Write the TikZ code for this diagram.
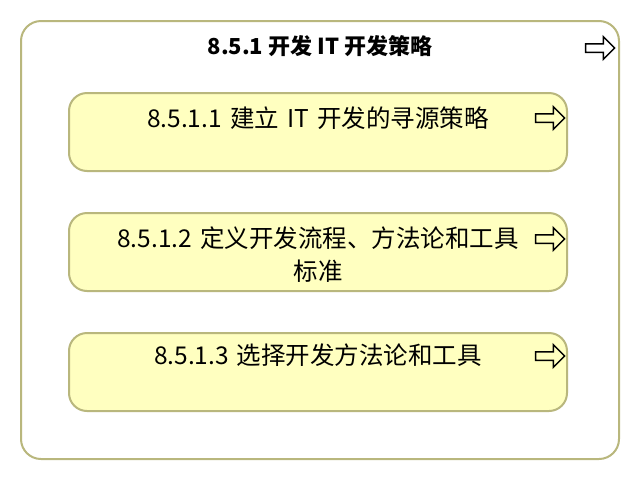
\documentclass[tikz,border=0pt]{standalone}
\usepackage{fontspec}
\setmainfont{Noto Sans CJK SC}
\usetikzlibrary{shapes.arrows, positioning}
\definecolor{boxline}{RGB}{185,183,125}
\definecolor{boxfill}{RGB}{255,255,192}
\tikzstyle{frame} = [rectangle, rounded corners=20pt, minimum width=598pt, minimum height=438pt, draw=boxline, line width=2pt, fill=white]
\tikzstyle{task} = [rectangle, rounded corners=18pt, minimum width=498pt, minimum height=78pt, draw=boxline, line width=2pt, fill=boxfill]
\tikzstyle{tasktext} = [text width=460pt, align=center, font=\fontsize{24.5}{33}\selectfont, inner sep=0pt]
\tikzstyle{goicon} = [single arrow, draw=black, line width=1.5pt, minimum height=29pt, single arrow head extend=7pt, single arrow head indent=0pt, inner sep=3.5pt]
\begin{document}
\begin{tikzpicture}[x=1pt, y=-1pt, node distance=120pt]
    \useasboundingbox (0,0) rectangle (640,480);
    \node (frame) [frame] at (320,240) {};
    \node (title) [below=15pt of frame.north, font=\bfseries\fontsize{22}{26}\selectfont, inner sep=0pt] {8.5.1 开发 IT 开发策略};
    \node (go0) [goicon] at (598,48) {};

    \node (t1) [task] at (318,132) {};
    \node (t2) [task, below of=t1] {};
    \node (t3) [task, below of=t2] {};

    \node (l1) [tasktext, below=15pt of t1.north] {8.5.1.1 建立 IT 开发的寻源策略};
    \node (l2) [tasktext, below=15pt of t2.north] {8.5.1.2 定义开发流程、方法论和工具\\标准};
    \node (l3) [tasktext, below=12pt of t3.north] {8.5.1.3 选择开发方法论和工具};

    \node (go1) [goicon, xshift=-20pt, yshift=-26pt] at (t1.north east) {};
    \node (go2) [goicon, xshift=-20pt, yshift=-27pt] at (t2.north east) {};
    \node (go3) [goicon, xshift=-20pt, yshift=-24pt] at (t3.north east) {};
\end{tikzpicture}
\end{document}
